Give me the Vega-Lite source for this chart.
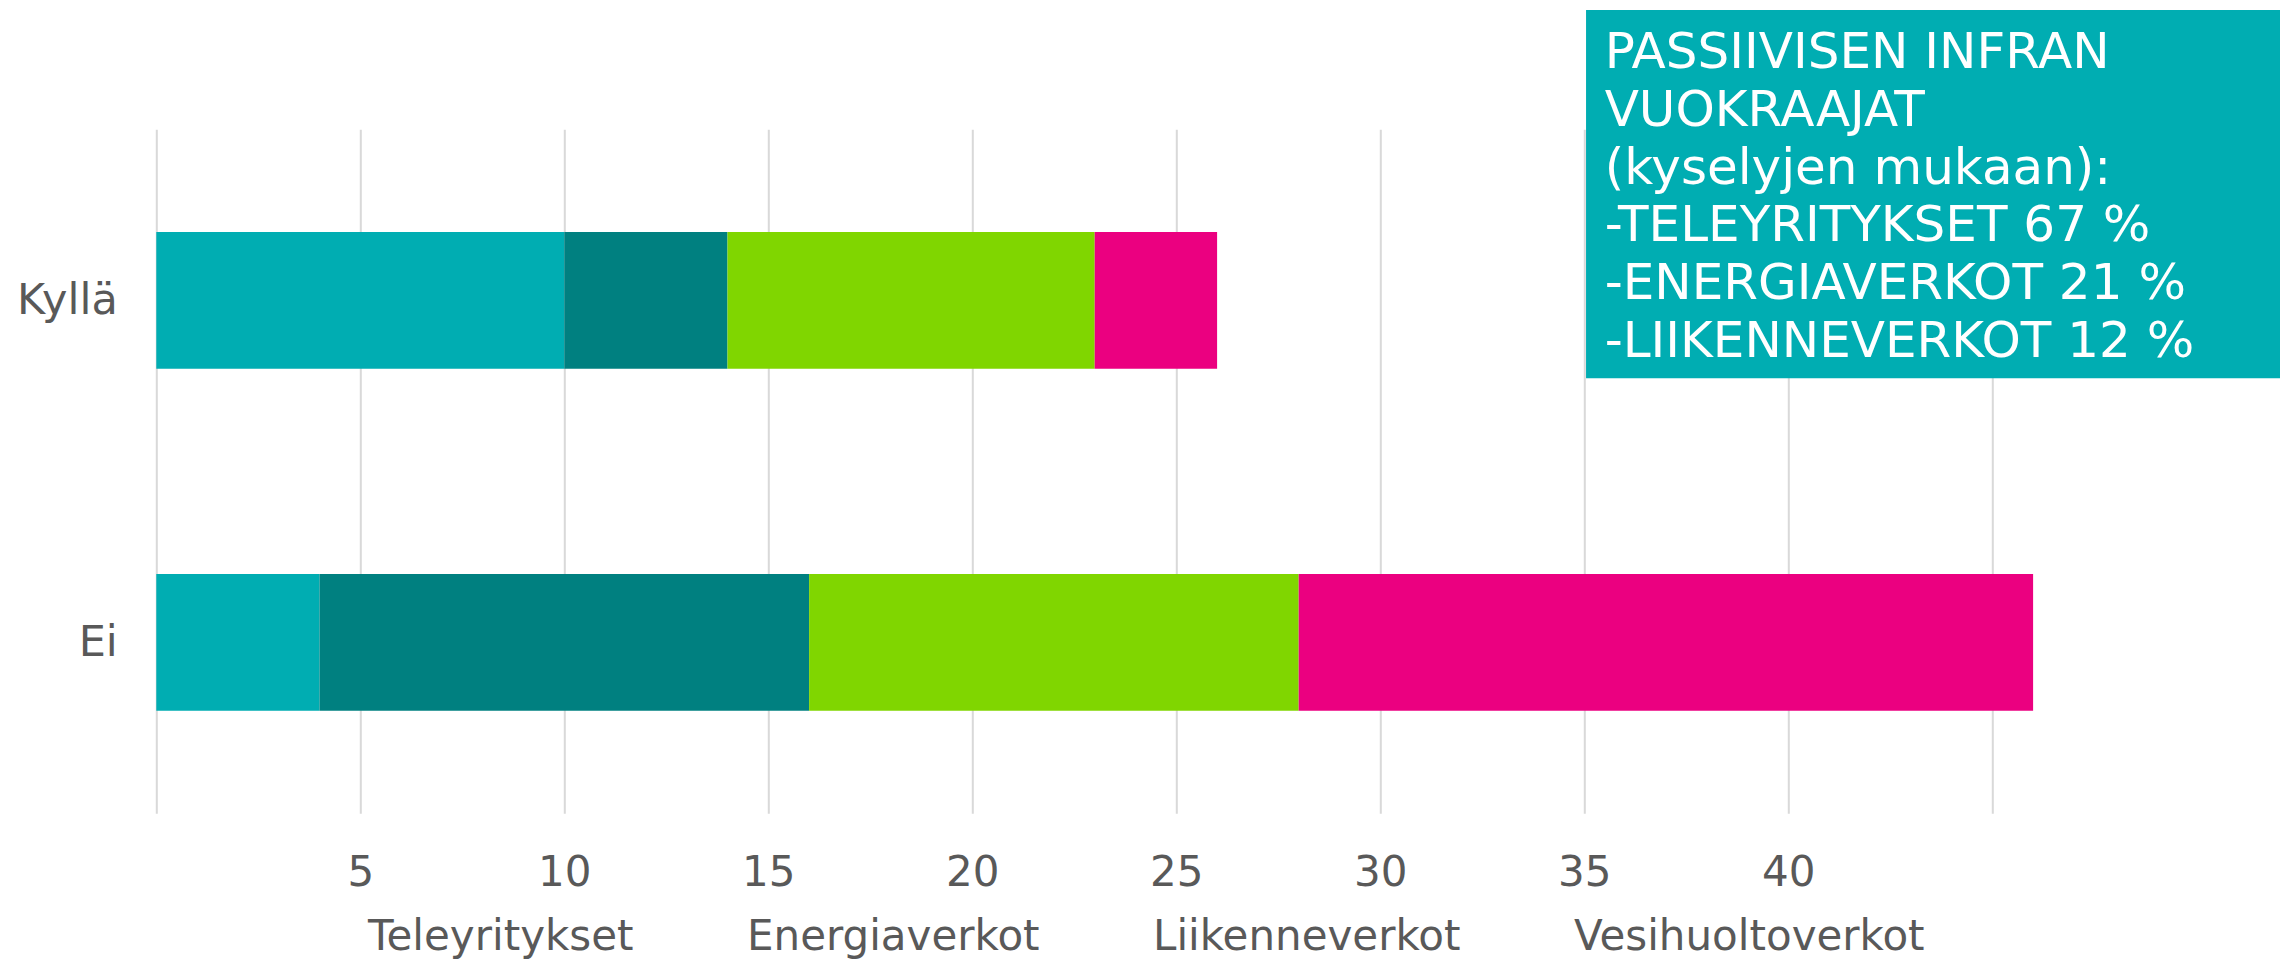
{
  "$schema": "https://vega.github.io/schema/vega-lite/v6.json",
  "width": 1876.8,
  "height": 684,
  "autosize": {"type": "none"},
  "padding": {"left": 156.3, "top": 129.3, "right": 246.9, "bottom": 154.7},
  "background": "white",
  "config": {"view": {"stroke": null}, "font": "DejaVu Sans"},
  "resolve": {"scale": {"x": "independent", "y": "independent"}},
  "layer": [
    {
      "data": {
        "values": [
          {"vastaus": "Kyllä", "sarja": "Teleyritykset", "arvo": 10},
          {"vastaus": "Kyllä", "sarja": "Energiaverkot", "arvo": 4},
          {"vastaus": "Kyllä", "sarja": "Liikenneverkot", "arvo": 9},
          {"vastaus": "Kyllä", "sarja": "Vesihuoltoverkot", "arvo": 3},
          {"vastaus": "Ei", "sarja": "Teleyritykset", "arvo": 4},
          {"vastaus": "Ei", "sarja": "Energiaverkot", "arvo": 12},
          {"vastaus": "Ei", "sarja": "Liikenneverkot", "arvo": 12},
          {"vastaus": "Ei", "sarja": "Vesihuoltoverkot", "arvo": 18}
        ]
      },
      "transform": [
        {"window": [{"op": "row_number", "as": "jarjestys"}], "groupby": ["vastaus"]}
      ],
      "mark": {"type": "bar"},
      "encoding": {
        "y": {
          "field": "vastaus", "type": "nominal", "sort": ["Kyllä", "Ei"],
          "scale": {"paddingInner": 0.6, "paddingOuter": 0.3},
          "axis": {"title": null, "domain": false, "ticks": false, "tickSize": 0, "grid": false,
                   "labelFontSize": 43, "labelColor": "#595959", "labelPadding": 39, "labelFont": "DejaVu Sans", "labelOffset": 1}
        },
        "x": {
          "field": "arvo", "type": "quantitative", "stack": "zero",
          "scale": {"domain": [0, 46], "nice": false},
          "axis": {"title": null, "values": [0, 5, 10, 15, 20, 25, 30, 35, 40, 45],
                   "labelExpr": "datum.value == 0 || datum.value == 45 ? '' : datum.label",
                   "domain": false, "ticks": false, "tickSize": 0, "grid": true,
                   "gridColor": "#d9d9d9", "gridWidth": 2,
                   "labelFontSize": 42, "labelColor": "#595959", "labelPadding": 39, "labelFont": "DejaVu Sans"}
        },
        "order": {"field": "jarjestys", "type": "quantitative", "sort": "ascending"},
        "color": {
          "field": "sarja", "type": "nominal",
          "sort": ["Teleyritykset", "Energiaverkot", "Liikenneverkot", "Vesihuoltoverkot"],
          "scale": {"domain": ["Teleyritykset", "Energiaverkot", "Liikenneverkot", "Vesihuoltoverkot"],
                    "range": ["#00ADB2", "#008080", "#80D600", "#EB0080"]},
          "legend": {
            "title": null, "orient": "none", "direction": "horizontal",
            "legendX": 169.7, "legendY": 787,
            "symbolSize": 0, "symbolOpacity": 0, "symbolStrokeWidth": 0,
            "labelOffset": 0, "columnPadding": 71, "padding": 0,
            "labelFontSize": 42, "labelColor": "#595959", "labelFont": "DejaVu Sans", "labelLimit": 0
          }
        }
      }
    },
    {
      "data": {"values": [{"vasen": 0.7618, "oikea": 1.14, "yla": 1.1744, "ala": 0.636}]},
      "mark": {"type": "rect", "color": "#00ADB2"},
      "encoding": {
        "x": {"field": "vasen", "type": "quantitative", "scale": {"domain": [0, 1], "nice": false, "zero": false}, "axis": null},
        "x2": {"field": "oikea"},
        "y": {"field": "yla", "type": "quantitative", "scale": {"domain": [0, 1], "nice": false, "zero": false}, "axis": null},
        "y2": {"field": "ala"}
      }
    },
    {
      "data": {"values": [{"teksti": "PASSIIVISEN INFRAN\nVUOKRAAJAT\n(kyselyjen mukaan):\n-TELEYRITYKSET 67 %\n-ENERGIAVERKOT 21 %\n-LIIKENNEVERKOT 12 %", "tx": 0.7717, "ty": 1.0892}]},
      "mark": {"type": "text", "color": "white", "font": "DejaVu Sans", "fontSize": 50, "align": "left", "baseline": "alphabetic", "lineBreak": "\n", "lineHeight": 57.7},
      "encoding": {
        "x": {"field": "tx", "type": "quantitative", "scale": {"domain": [0, 1], "nice": false, "zero": false}, "axis": null},
        "y": {"field": "ty", "type": "quantitative", "scale": {"domain": [0, 1], "nice": false, "zero": false}, "axis": null},
        "text": {"field": "teksti", "type": "nominal"}
      }
    }
  ]
}
